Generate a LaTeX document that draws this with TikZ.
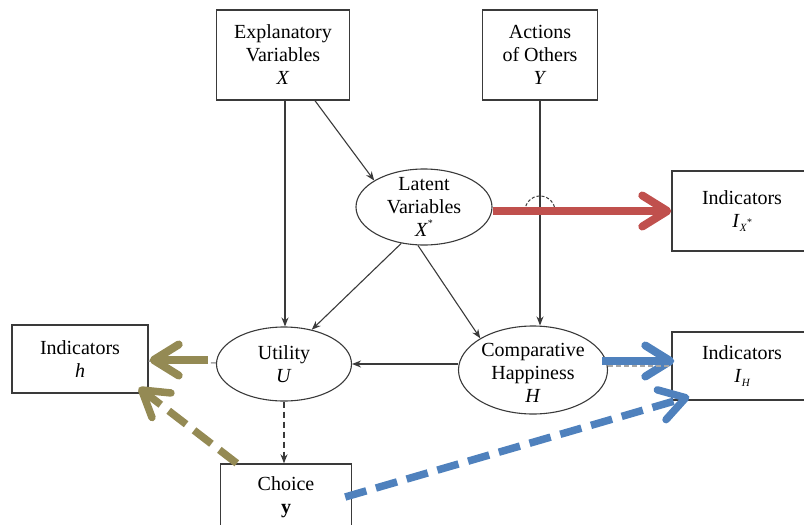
\documentclass[tikz,border=0pt]{standalone}
\usepackage{fontspec}
\setmainfont{Liberation Serif}
\usetikzlibrary{shapes.geometric,arrows.meta}
\definecolor{redA}{HTML}{C0504D}
\definecolor{blueA}{HTML}{4F81BD}
\definecolor{oliveA}{HTML}{948A54}
\definecolor{lineA}{HTML}{3A3A3A}
\newcommand{\subtxt}[1]{\raisebox{-0.4ex}{\fontsize{11}{11}\selectfont\itshape #1}}
\newcommand{\startxt}{\raisebox{1.1ex}{\fontsize{10}{10}\selectfont *}}
\begin{document}
\begin{tikzpicture}[x=1pt,y=-1pt,
  font=\fontsize{20}{23}\selectfont,
  box/.style={draw=lineA,line width=1.4pt,rectangle,align=center,inner sep=0pt},
  oval/.style={draw=lineA,line width=1.1pt,ellipse,inner sep=0pt},
  ovaltext/.style={align=center,inner sep=0pt},
  thinarrow/.style={draw=lineA,line width=1.1pt,-{Stealth[length=9pt,width=7pt]}},
  fatarrow/.style={line width=8pt,-{Straight Barb[length=25pt,width=31pt,round]}},
  fatdash/.style={line width=7.5pt,dash pattern=on 22pt off 10pt,-{Straight Barb[length=25pt,width=31pt,round]}},
  greydash/.style={draw=gray!70,line width=1.5pt,dash pattern=on 5pt off 3pt}]
\useasboundingbox (0,0) rectangle (804,525);
\clip (0,0) rectangle (804,525);
% boxes
\node[box,minimum width=133pt,minimum height=90pt] (X) at (283,55) {Explanatory\\Variables\\\textit{X}};
\node[box,minimum width=115pt,minimum height=90pt] (Y) at (540,55) {Actions\\of Others\\\textit{Y}};
\node[box,minimum width=140pt,minimum height=80pt] (IX) at (742,211) {Indicators\\\textit{I}\subtxt{X\startxt}};
\node[box,minimum width=140pt,minimum height=68pt] (IH) at (742,366) {Indicators\\\textit{I}\subtxt{H}};
\node[box,minimum width=136pt,minimum height=68pt] (h) at (80,359) {Indicators\\\textit{h}};
\node[box,minimum width=131pt,minimum height=66pt] (C) at (286,497) {Choice\\\textbf{y}};
% ellipses
\node[oval,minimum width=136pt,minimum height=76pt] (L) at (424,207) {};
\node[ovaltext] (Lt) at (L) {Latent\\Variables\\\textit{X}\startxt};
\node[oval,minimum width=135pt,minimum height=74pt] (U) at (284,364) {};
\node[ovaltext] (Ut) at (U) {Utility\\\textit{U}};
\node[oval,minimum width=149pt,minimum height=88pt] (H) at (533,370) {};
\node[ovaltext] (Ht) at ([yshift=-3pt]H.center) {Comparative\\Happiness\\\textit{H}};
% thin connectors
\draw[thinarrow] ([xshift=2pt]X.south) -- ([xshift=2pt]X.south |- U.north);
\draw[thinarrow] ([xshift=32pt]X.south) -- (L.152);
\draw[thinarrow] (L.238) -- (U.51);
\draw[thinarrow] (L.261) -- (H.149);
\draw[thinarrow] (Y.south) -- (Y.south |- H.north);
\draw[thinarrow] (H.west |- U.east) -- (U.east);
\draw[thinarrow,dash pattern=on 6pt off 4pt] (U.south) -- (U.south |- C.north);
% hop over the red arrow
\draw[lineA,line width=1pt,dash pattern=on 3pt off 2pt] ([xshift=-15pt]Y.south |- IX.west) arc[start angle=180,end angle=0,radius=15pt];
% grey dashed line under the olive arrow
\draw[greydash] ([yshift=1pt]U.west) -- ([yshift=-2pt]h.east);
% coloured arrows
\draw[fatarrow,redA] (L.east |- IX.west) -- (IX.west);
\draw[fatarrow,blueA] ([shift={(-6,-9)}]H.east) -- ([shift={(3,-5)}]IH.west);
\draw[fatarrow,oliveA] ([shift={(-8,-4)}]U.west) -- ([shift={(1,1)}]h.east);
\draw[fatdash,oliveA] ([xshift=17pt]C.north west) -- ([shift={(-10,-6)}]h.south east);
\draw[fatdash,blueA] ([xshift=-7pt]C.east) -- ([shift={(18,-4)}]IH.south west);
% grey dashed line along the blue arrow
\draw[greydash] ([yshift=4pt]H.east) -- ([yshift=0pt]IH.west);
\end{tikzpicture}
\end{document}
